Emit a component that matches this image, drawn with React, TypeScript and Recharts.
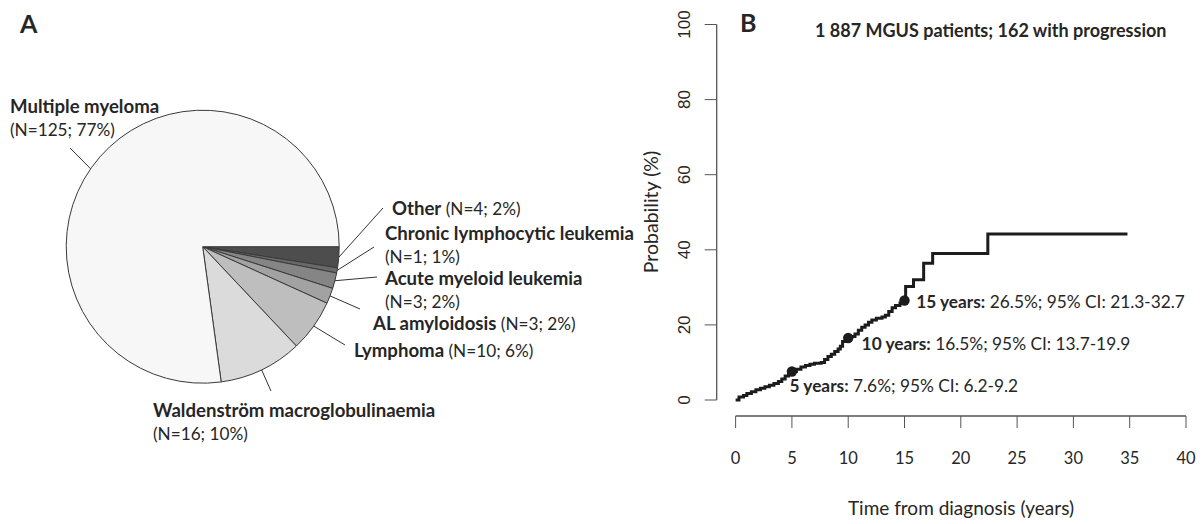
import { PieChart, Pie, Cell, ComposedChart, Line, Scatter, XAxis, YAxis, ReferenceLine } from 'recharts';

// panel A: progression diagnoses (clockwise from 3 o'clock)
const diagnoses = [
  'Other',
  'Chronic lymphocytic leukemia',
  'Acute myeloid leukemia',
  'AL amyloidosis',
  'Lymphoma',
  'Waldenström macroglobulinaemia',
  'Multiple myeloma',
];
const patientCounts = [4, 1, 3, 3, 10, 16, 125];
const sliceGreys = ['#4d4d4d', '#696969', '#858585', '#a2a2a2', '#bebebe', '#dbdbdb', '#f7f7f7'];

// panel B: cumulative probability of progression
const years = [
  0, 0.3, 0.7, 1.0, 1.4, 1.8, 2.2, 2.6, 3.0, 3.4, 3.8, 4.1, 4.4, 4.7, 5.0, 5.4, 5.8, 6.2, 6.6, 7.0,
  7.6, 7.9, 8.2, 8.5, 8.8, 9.1, 9.3, 9.5, 10.0, 10.3, 10.6, 10.9, 11.2, 11.5, 11.8, 12.1, 12.5, 13.0,
  13.3, 13.6, 13.9, 14.2, 14.6, 15.0, 15.1, 15.8, 16.7, 17.5, 22.4, 34.8,
];
const probability = [
  0, 0.8, 1.2, 1.7, 2.2, 2.7, 3.1, 3.5, 3.9, 4.4, 4.9, 5.6, 6.4, 7.0, 7.6, 8.2, 8.8, 9.2, 9.5, 9.8,
  10.0, 10.8, 11.6, 12.2, 12.9, 13.6, 14.3, 15.6, 16.5, 16.9, 17.6, 18.6, 19.4, 20.0, 20.7, 21.3, 21.8, 22.1,
  22.6, 23.6, 24.6, 25.2, 25.8, 26.5, 30.2, 32.0, 36.4, 39.0, 44.2, 44.2,
];

const milestoneYears = [5, 10, 15];
const milestoneProb = [7.6, 16.5, 26.5];
const ciLower = [6.2, 13.7, 21.3];
const ciUpper = [9.2, 19.9, 32.7];

const xTicks = [0, 5, 10, 15, 20, 25, 30, 35, 40];
const yTicks = [0, 20, 40, 60, 80, 100];

const X_MIN = -1.68;
const Y_MIN = -4.26;

const total = patientCounts.reduce((a, b) => a + b, 0);
const pieData = diagnoses.map((name, i) => ({ name, value: patientCounts[i] }));
const curve = years.map((t, i) => ({ t, p: probability[i] }));
const milestones = milestoneYears.map((t, i) => ({ t, p: milestoneProb[i], lo: ciLower[i], hi: ciUpper[i] }));

// where each pie label goes (page pixels)
const pieLabelLayout = [
  { end: [383, 208], text: [392, 208], inline: true, shift: 0 },
  { end: [374, 247], text: [385, 233], inline: false, shift: 0 },
  { end: [377, 277], text: [385, 278], inline: false, shift: 0 },
  { end: [360, 309], text: [373, 323], inline: true, shift: 0 },
  { end: [345, 345], text: [354, 350], inline: true, shift: 0 },
  { end: [271, 391], text: [153, 410], inline: false, shift: 0 },
  { end: [70, 148], text: [10, 106], inline: false, shift: 6.3 },
];
const milestoneLabelOffset = [
  { dx: -2.4, dy: 14 },
  { dx: 13.4, dy: 5 },
  { dx: 11.7, dy: 1 },
];

const FONT = 'Lato, "Open Sans", sans-serif';
const INK = '#262626';
const RADIAN = Math.PI / 180;

const renderPieLabel = (props: any) => {
  const { cx, cy, midAngle, outerRadius, index } = props;
  const lay = pieLabelLayout[index];
  const a = (midAngle + lay.shift) * RADIAN;
  const sx = cx + outerRadius * Math.cos(-a);
  const sy = cy + outerRadius * Math.sin(-a);
  const n = patientCounts[index];
  const detail = `(N=${n}; ${Math.round((n / total) * 100)}%)`;
  return (
    <g key={`lbl-${index}`}>
      <line x1={sx} y1={sy} x2={lay.end[0]} y2={lay.end[1]} stroke="#333" strokeWidth={1} />
      <text x={lay.text[0]} y={lay.text[1]} dominantBaseline="central" fill={INK} fontSize={17.2} fontFamily={FONT}>
        <tspan fontWeight="bold" fontSize={18.6}>{diagnoses[index]}</tspan>
        {lay.inline ? <tspan>{' ' + detail}</tspan> : null}
      </text>
      {!lay.inline && (
        <text x={lay.text[0]} y={lay.text[1] + 23} dominantBaseline="central" fill={INK} fontSize={17.2} fontFamily={FONT}>
          {detail}
        </text>
      )}
    </g>
  );
};

const RotatedTick = (props: any) => {
  const { x, y, payload } = props;
  return (
    <text
      transform={`translate(${x - 13},${y}) rotate(-90)`}
      textAnchor="middle"
      fill={INK}
      fontSize={17}
      fontFamily='"Liberation Sans", Arial, sans-serif'
    >
      {payload.value}
    </text>
  );
};

const MilestoneDot = (props: any) => {
  const { cx, cy, payload } = props;
  const i = milestoneYears.indexOf(payload.t);
  const off = milestoneLabelOffset[i];
  return (
    <g>
      <circle cx={cx} cy={cy} r={5.2} fill="#1c1c1c" />
      <text x={cx + off.dx} y={cy + off.dy} dominantBaseline="central" fill={INK} fontSize={17.3} fontFamily={FONT}>
        <tspan fontWeight="bold">{`${payload.t} years:`}</tspan>
        <tspan>{` ${payload.p}%; 95% CI: ${payload.lo}-${payload.hi}`}</tspan>
      </text>
    </g>
  );
};

export default function App() {
  return (
    <div style={{ position: 'absolute', left: 0, top: 0, width: 1203, height: 524, background: '#fff' }}>
      <div style={{ position: 'absolute', left: 0, top: 0 }}>
        <PieChart width={680} height={524} margin={{ top: 0, right: 0, bottom: 0, left: 0 }}>
          <Pie
            data={pieData}
            dataKey="value"
            nameKey="name"
            cx={202.7}
            cy={246.7}
            outerRadius={136.5}
            startAngle={0}
            endAngle={-360}
            stroke="#3a3a3a"
            strokeWidth={1}
            labelLine={false}
            label={renderPieLabel}
            isAnimationActive={false}
          >
            {pieData.map((d, i) => (
              <Cell key={d.name} fill={sliceGreys[i]} />
            ))}
          </Pie>
        </PieChart>
      </div>
      <div style={{ position: 'absolute', left: 600, top: 0 }}>
        <ComposedChart width={603} height={524} data={curve} margin={{ top: 24.5, right: 17, bottom: 48, left: 56.7 }}>
          <XAxis
            dataKey="t"
            type="number"
            domain={[X_MIN, 40]}
            ticks={xTicks}
            interval={0}
            axisLine={false}
            stroke="#555"
            tickSize={12}
            tickMargin={24}
            height={60}
            tick={{ fill: INK, fontSize: 16.5, fontFamily: FONT }}
          />
          <YAxis
            type="number"
            domain={[Y_MIN, 100]}
            ticks={yTicks}
            interval={0}
            axisLine={false}
            stroke="#555"
            tickSize={12}
            width={60}
            tick={<RotatedTick />}
          />
          <ReferenceLine segment={[{ x: 0, y: Y_MIN }, { x: 40, y: Y_MIN }]} stroke="#555" strokeWidth={1.3} ifOverflow="visible" />
          <ReferenceLine segment={[{ x: X_MIN, y: 0 }, { x: X_MIN, y: 100 }]} stroke="#555" strokeWidth={1.3} ifOverflow="visible" />
          <Line dataKey="p" type="stepAfter" stroke="#1c1c1c" strokeWidth={3} dot={false} isAnimationActive={false} />
          <Scatter data={milestones} dataKey="p" shape={<MilestoneDot />} isAnimationActive={false} />
        </ComposedChart>
      </div>
      <svg width={1203} height={524} style={{ position: 'absolute', left: 0, top: 0, pointerEvents: 'none' }}>
        <text x={20} y={33} fontSize={25} fontWeight="bold" fill={INK} fontFamily={FONT}>A</text>
        <text x={740} y={32} fontSize={25} fontWeight="bold" fill={INK} fontFamily={FONT}>B</text>
        <text x={815} y={37} fontSize={18} fontWeight="bold" fill={INK} fontFamily={FONT}>
          1 887 MGUS patients; 162 with progression
        </text>
        <text transform="translate(658,212) rotate(-90)" textAnchor="middle" fontSize={19.5} fill={INK} fontFamily={FONT}>
          Probability (%)
        </text>
        <text x={961} y={515} textAnchor="middle" fontSize={19} fill={INK} fontFamily={FONT}>
          Time from diagnosis (years)
        </text>
      </svg>
    </div>
  );
}
